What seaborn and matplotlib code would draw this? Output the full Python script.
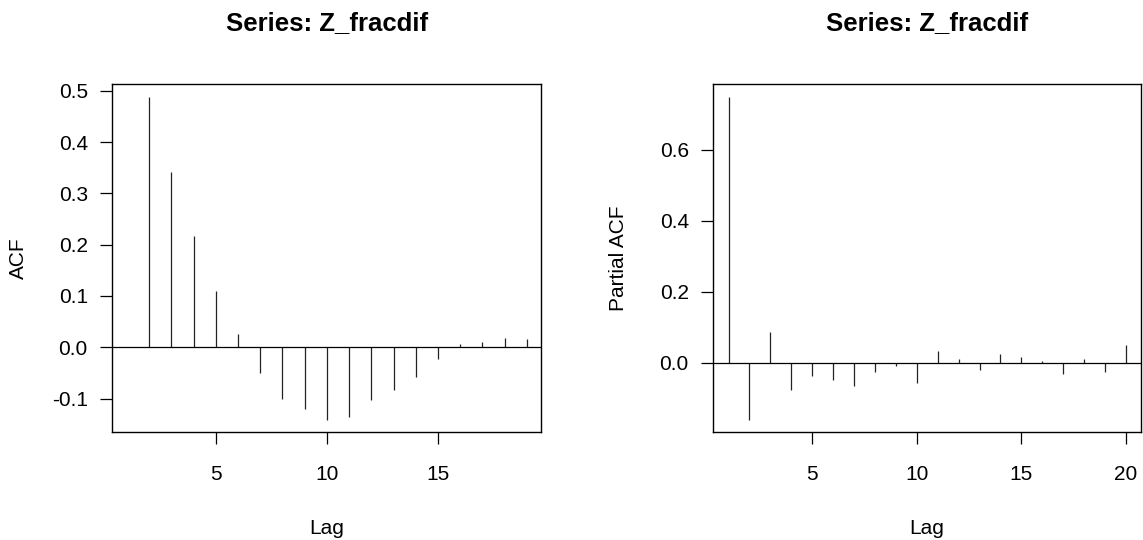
import numpy as np
import pandas as pd
import matplotlib
matplotlib.use("Agg")
import matplotlib.pyplot as plt
import seaborn as sns

# ---- data ----
acf_lags = [2, 3, 4, 5, 6, 7, 8, 9, 10, 11, 12, 13, 14, 15, 16, 17, 18, 19]
acf_vals = [0.487, 0.341, 0.217, 0.110, 0.025, -0.051, -0.101, -0.120, -0.142,
            -0.135, -0.103, -0.084, -0.058, -0.023, 0.0065, 0.010, 0.0175, 0.0156]

pacf_lags = list(range(1, 21))
pacf_vals = [0.747, -0.160, 0.086, -0.077, -0.036, -0.049, -0.064, -0.026, -0.0075,
             -0.057, 0.034, 0.010, -0.021, 0.025, 0.017, 0.0066, -0.030, 0.010,
             -0.024, 0.050]

title_text = "Series: Z_fracdif"
acf_yticks = [-0.1, 0.0, 0.1, 0.2, 0.3, 0.4, 0.5]
acf_ytick_labels = ["-0.1", "0.0", "0.1", "0.2", "0.3", "0.4", "0.5"]
pacf_yticks = [0.0, 0.2, 0.4, 0.6]
pacf_ytick_labels = ["0.0", "0.2", "0.4", "0.6"]
acf_xticks = [5, 10, 15]
pacf_xticks = [5, 10, 15, 20]

sns.set_theme(style="white")
plt.rcParams['font.family'] = ['Liberation Sans', 'DejaVu Sans']
plt.rcParams['axes.edgecolor'] = 'black'
plt.rcParams['axes.linewidth'] = 1.0

fig = plt.figure(figsize=(11.43, 5.40), dpi=100)
W, H = 1143, 540

def make_axes(left, right, top=84.3, bottom=432.3):
    return fig.add_axes([left / W, (H - bottom) / H, (right - left) / W, (bottom - top) / H])

ax1 = make_axes(112.3, 541.0)
ax2 = make_axes(713.3, 1141.0)

def style(ax, lags, vals, xlim, ylim, xticks, yticks, yticklabels, ylabel):
    df = pd.DataFrame({"lag": lags, "value": vals})
    ax.vlines(df["lag"], 0, df["value"], colors="#222222", linewidth=0.9)
    ax.axhline(0, color="black", linewidth=0.9)
    ax.set_xlim(*xlim)
    ax.set_ylim(*ylim)
    ax.set_xticks(xticks)
    ax.set_xticklabels([str(t) for t in xticks])
    ax.set_yticks(yticks)
    ax.set_yticklabels(yticklabels)
    ax.tick_params(axis='both', which='major', direction='out', length=8.6,
                   width=0.9, color='black', labelsize=15, labelcolor='black', pad=9,
                   bottom=True, left=True)
    ax.tick_params(axis='x', pad=15)
    for s in ax.spines.values():
        s.set_visible(True)
        s.set_color('black')
        s.set_linewidth(1.0)
    ax.set_title(title_text, fontsize=18.5, fontweight='bold', pad=39, color='black')
    ax.set_xlabel("Lag", fontsize=15, color='black')
    ax.set_ylabel(ylabel, fontsize=15, color='black')
    ax.xaxis.set_label_coords(0.5, -0.25)
    ax.grid(False)

style(ax1, acf_lags, acf_vals, (0.34, 19.64), (-0.1657, 0.5125),
      acf_xticks, acf_yticks, acf_ytick_labels, "ACF")
ax1.yaxis.set_label_coords(-0.197, 0.5)

style(ax2, pacf_lags, pacf_vals, (0.27, 20.72), (-0.195, 0.784),
      pacf_xticks, pacf_yticks, pacf_ytick_labels, "Partial ACF")
ax2.yaxis.set_label_coords(-0.1995, 0.5)

fig.savefig("out.png", dpi=100)
